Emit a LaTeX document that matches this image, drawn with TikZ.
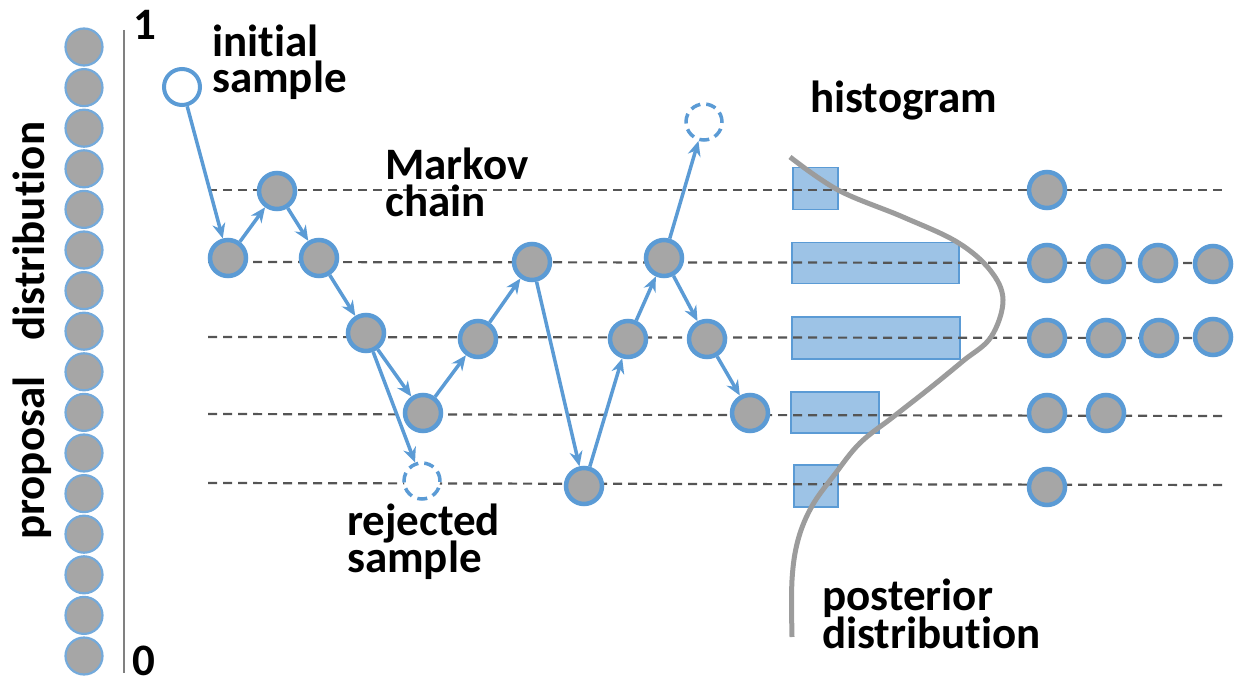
\documentclass[tikz,border=0pt]{standalone}
\usepackage{fontspec}
\setmainfont{Carlito}[Ligatures={NoCommon}]
\usetikzlibrary{arrows.meta}
\definecolor{cblue}{HTML}{5B9BD5}
\definecolor{dotgray}{HTML}{A6A6A6}
\definecolor{barblue}{HTML}{9DC3E6}
\definecolor{guidegray}{HTML}{555555}
\definecolor{curvegray}{HTML}{9C9C9C}
\definecolor{axisgray}{HTML}{808080}
\tikzset{
  lbl/.style={font=\fontsize{45}{36}\selectfont\bfseries, anchor=base west, inner sep=0pt,
    text height=27pt, text depth=7pt},
  proppt/.style={circle, inner sep=0pt, minimum size=37pt, fill=dotgray, draw=cblue!85, line width=2.2pt},
  chainpt/.style={circle, inner sep=0pt, minimum size=36pt, fill=dotgray, draw=cblue, line width=4.5pt},
  startpt/.style={chainpt, fill=white, line width=4pt},
  ghostpt/.style={chainpt, fill=white, line width=3.5pt, dash pattern=on 10pt off 6pt},
  arr/.style={draw=cblue, line width=3.5pt, -{Stealth[length=15pt,width=13pt]}},
  guide/.style={draw=guidegray, line width=2.2pt, dash pattern=on 9pt off 6pt},
  bar/.style={fill=barblue, draw=cblue, line width=1.5pt},
}
\begin{document}
\begin{tikzpicture}[x=1pt,y=-1pt]
\useasboundingbox (0,0) rectangle (1238,684);

% proposal distribution: column of samples and the 0..1 axis
\foreach \i in {0,...,15} {
  \node[proppt] (p\i) at (84, 47+40.6*\i) {};
}
\coordinate (axtop) at (124,30);
\coordinate (axbot) at (124,673);
\draw[axisgray, line width=2.5pt] (axtop) -- (axbot);
\node[lbl] (one) at (133,40) {1};
\node[lbl] (zero) at (132,675) {0};
\node[font=\fontsize{45}{36}\selectfont\bfseries, rotate=90, anchor=base, inner sep=0pt]
  (proplbl) at (44,331) {proposal\hspace{36pt}distribution};

% histogram bars
\node[bar, minimum width=45pt, minimum height=42pt, inner sep=0pt, anchor=north west] (h1) at (792,167) {};
\node[bar, minimum width=167pt, minimum height=41pt, inner sep=0pt, anchor=north west] (h2) at (791,242) {};
\node[bar, minimum width=168pt, minimum height=42pt, inner sep=0pt, anchor=north west] (h3) at (791,316) {};
\node[bar, minimum width=88pt, minimum height=41pt, inner sep=0pt, anchor=north west] (h4) at (790,391) {};
\node[bar, minimum width=44pt, minimum height=42pt, inner sep=0pt, anchor=north west] (h5) at (793,464) {};

% level guide lines
\draw[guide] (208,190) -- (1227,190);
\draw[guide] (208,262) -- (1227,263);
\draw[guide] (208,337) -- (1227,338);
\draw[guide] (208,414) -- (1227,416);
\draw[guide] (208,483) -- (1227,485);

% posterior density
\draw[curvegray, line width=5pt] plot[smooth, tension=0.6] coordinates {
  (790,157) (838,190) (903,217) (957,242) (990,270) (1003,300) (991,337)
  (963,361) (930,388) (893,417) (860,443) (835,474) (812,506) (798,540)
  (792,580) (792,637)};

% Markov chain samples
\node[startpt] (init) at (182,87) {};
\node[chainpt] (n1) at (228,258) {};
\node[chainpt] (n2) at (277,191) {};
\node[chainpt] (n3) at (319,258) {};
\node[chainpt] (n4) at (366,333) {};
\node[chainpt] (n5) at (423,413) {};
\node[ghostpt] (rej) at (422,481) {};
\node[chainpt] (n6) at (478,339) {};
\node[chainpt] (n7) at (532,262) {};
\node[chainpt] (n8) at (584,486) {};
\node[chainpt] (n9) at (628,339) {};
\node[chainpt] (n10) at (664,258) {};
\node[ghostpt] (rej2) at (704,122) {};
\node[chainpt] (n11) at (707,339) {};
\node[chainpt] (n12) at (750,413) {};

\draw[arr] (init) -- (n1);
\draw[arr] (n1) -- (n2);
\draw[arr] (n2) -- (n3);
\draw[arr] (n3) -- (n4);
\draw[arr] (n4) -- (n5);
\draw[arr] (n4) -- (rej);
\draw[arr] (n5) -- (n6);
\draw[arr] (n6) -- (n7);
\draw[arr] (n7) -- (n8);
\draw[arr] (n8) -- (n9);
\draw[arr] (n9) -- (n10);
\draw[arr] (n10) -- (rej2);
\draw[arr] (n10) -- (n11);
\draw[arr] (n11) -- (n12);

% samples collected per level
\node[chainpt] (c1a) at (1047,190) {};
\node[chainpt] (c2a) at (1047,263) {};
\node[chainpt] (c2b) at (1106,264) {};
\node[chainpt] (c2c) at (1158,263) {};
\node[chainpt] (c2d) at (1213,264) {};
\node[chainpt] (c3a) at (1047,338) {};
\node[chainpt] (c3b) at (1106,338) {};
\node[chainpt] (c3c) at (1159,338) {};
\node[chainpt] (c3d) at (1213,337) {};
\node[chainpt] (c4a) at (1047,413) {};
\node[chainpt] (c4b) at (1106,413) {};
\node[chainpt] (c5a) at (1047,487) {};

% labels
\node[lbl] (t1) at (212,57) {initial};
\node[lbl] (t2) at (212,93) {sample};
\node[lbl] (t3) at (385,180) {Markov};
\node[lbl] (t4) at (385,217) {chain};
\node[lbl] (t5) at (810,113) {histogram};
\node[lbl] (t6) at (347,535) {rejected};
\node[lbl] (t7) at (347,572) {sample};
\node[lbl] (t8) at (822,610) {posterior};
\node[lbl] (t9) at (822,648) {distribution};
\end{tikzpicture}
\end{document}
